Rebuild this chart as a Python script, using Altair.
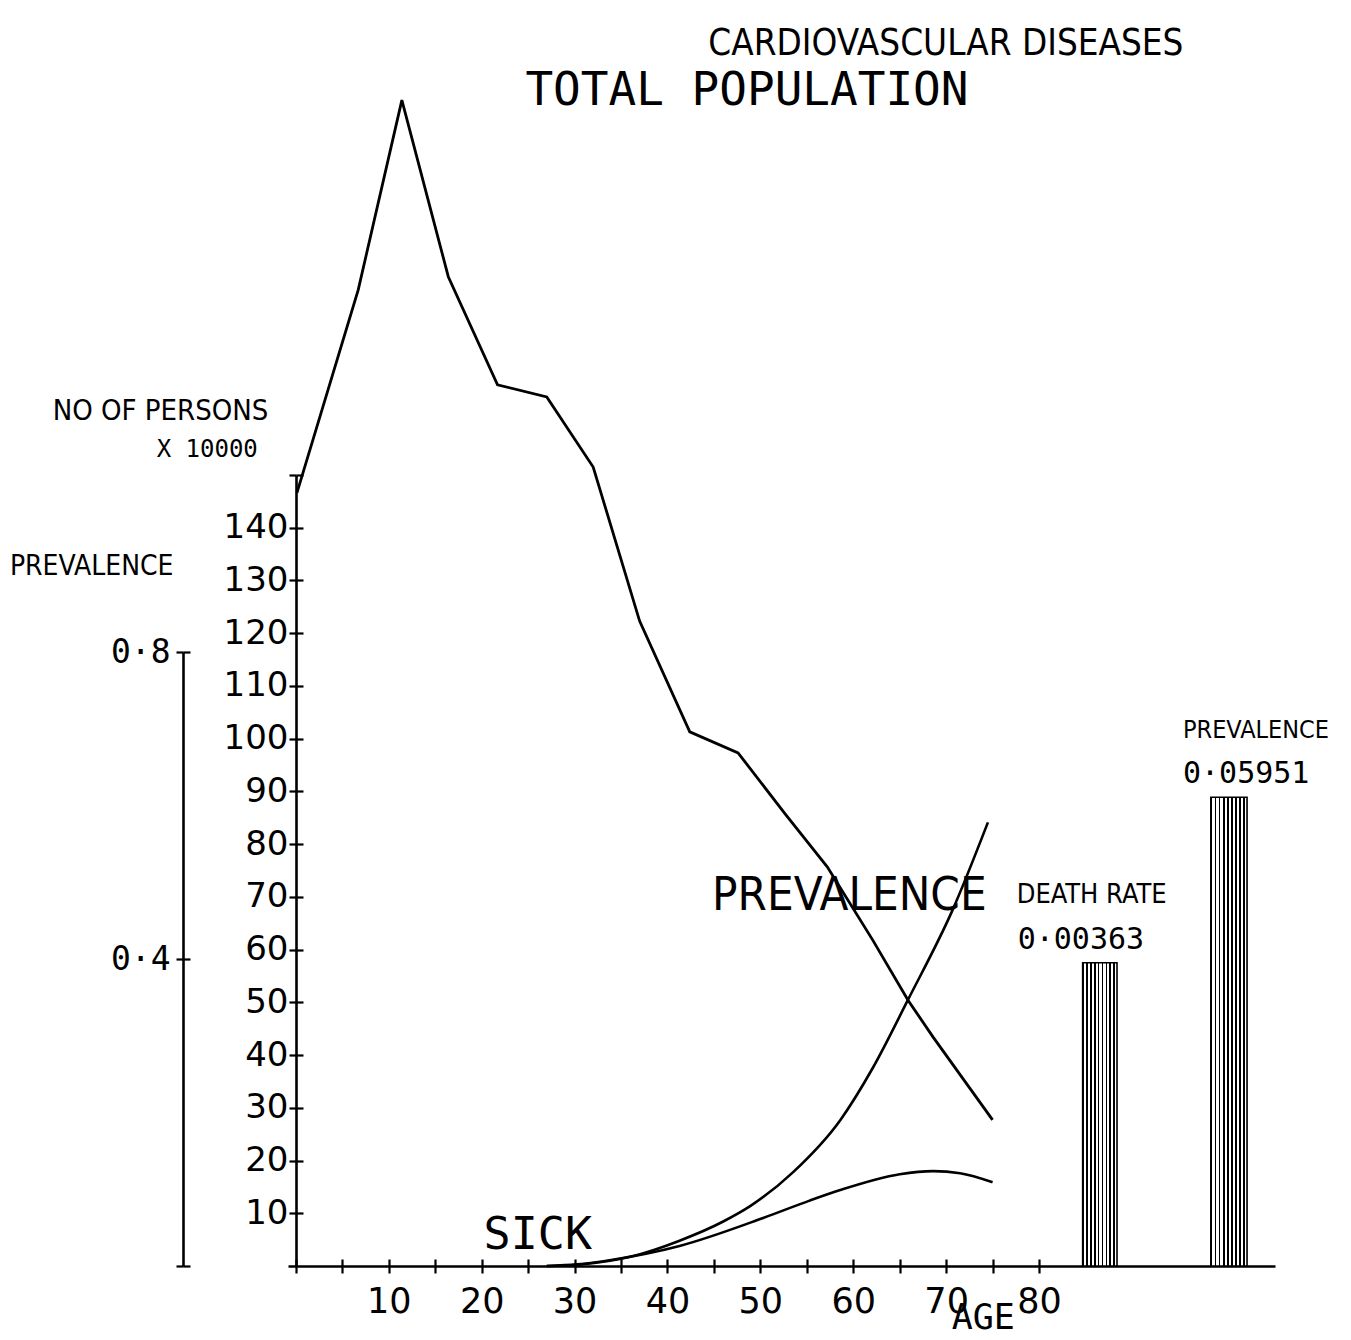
import altair as alt
import pandas as pd

# ---------------- data ----------------
# total population (x 10000) by age
pop_age = [0.1, 6.7, 11.4, 16.4, 21.7, 27.0, 32.0, 37.0, 42.4, 47.6, 52.6, 57.2, 62.1, 65.9, 68.6, 75.0]
pop_val = [146.6, 185.1, 221.1, 187.6, 167.1, 164.8, 151.5, 122.3, 101.3, 97.3, 85.9, 75.7, 61.8, 50.4, 43.4, 27.7]

# sick persons (x 10000) by age
sick_age = [27.0, 30.3, 34.1, 41.3, 50.3, 55.3, 58.6, 65.0, 68.6, 71.5, 75.0]
sick_val = [0.0, 0.3, 1.2, 3.8, 9.1, 12.4, 14.4, 17.4, 18.0, 17.6, 15.9]

# prevalence by age
prev_age = [27.0, 30.6, 36.0, 41.3, 46.0, 48.9, 53.5, 58.6, 62.1, 65.9, 70.7, 74.5]
prev_val = [0.0, 0.002, 0.012, 0.033, 0.058, 0.078, 0.122, 0.190, 0.258, 0.347, 0.464, 0.578]

# summary bars (drawn on the persons scale as in the original)
bar_name = ["DEATH RATE", "PREVALENCE"]
bar_value_text = ["0·00363", "0·05951"]
bar_start = [84.7, 98.5]
bar_end = [88.4, 102.4]
bar_height = [57.5, 88.9]

# axis ticks
age_ticks = list(range(0, 85, 5))
pop_ticks = list(range(10, 160, 10))
prev_ticks = [0.0, 0.4, 0.8]

XDOM = [-0.86, 105.41]
PDOM = [0, 150]
W, H = 987, 791

MONO = "DejaVu Sans Mono"
NARROW = "Liberation Sans Narrow, DejaVu Sans Condensed, sans-serif"
SANS = "DejaVu Sans"


def xs():
    return alt.Scale(domain=XDOM, nice=False, zero=False)


def ys():
    return alt.Scale(domain=PDOM, nice=False, zero=False)


def prev_scale():
    return alt.Scale(domain=[0, 0.8], range=[H, H - 614], nice=False, zero=False)


common_axis = dict(grid=False, title=None, domainColor="black", tickColor="black",
                   labelColor="black", tickWidth=2.2, domainWidth=2.6)

pop_df = pd.DataFrame({"age": pop_age, "v": pop_val})
sick_df = pd.DataFrame({"age": sick_age, "v": sick_val})
prev_df = pd.DataFrame({"age": prev_age, "v": prev_val})
bar_df = pd.DataFrame({"a0": bar_start, "a1": bar_end, "h": bar_height,
                       "base": [0.0, 0.0], "name": bar_name})

# population line with main x axis and main persons axis
pop_line = alt.Chart(pop_df).mark_line(color="black", strokeWidth=2.8).encode(
    x=alt.X("age:Q", scale=xs(), axis=alt.Axis(
        values=age_ticks, orient="bottom", tickSize=7,
        labelExpr="datum.value > 0 && datum.value % 10 == 0 ? datum.label : ''",
        labelFont=SANS, labelFontSize=35, labelPadding=11, labelOverlap=False,
        labelFlush=False, **common_axis)),
    y=alt.Y("v:Q", scale=ys(), axis=alt.Axis(
        values=pop_ticks, orient="left", offset=-8, tickSize=7,
        labelExpr="datum.value < 150 ? datum.label : ''",
        labelFont=SANS, labelFontSize=34, labelPadding=1, labelOverlap=False,
        labelFlush=False, **common_axis)),
)

# sick line, carrying the inner halves of the crossing ticks
sick_line = alt.Chart(sick_df).mark_line(color="black", strokeWidth=2.6, interpolate="monotone").encode(
    x=alt.X("age:Q", scale=xs(), axis=alt.Axis(
        values=age_ticks, orient="bottom", offset=-7, tickSize=7, domain=False,
        labels=False, grid=False, title=None, tickColor="black", tickWidth=2.2)),
    y=alt.Y("v:Q", scale=ys(), axis=alt.Axis(
        values=pop_ticks, orient="left", offset=-15, tickSize=7, domain=False,
        labels=False, grid=False, title=None, tickColor="black", tickWidth=2.2)),
)

# prevalence curve on its own axis
prev_line = alt.Chart(prev_df).mark_line(color="black", strokeWidth=2.6, interpolate="monotone").encode(
    x=alt.X("age:Q", scale=xs(), axis=None),
    y=alt.Y("v:Q", scale=prev_scale(), axis=alt.Axis(
        values=prev_ticks, orient="left", offset=105, tickSize=7, format=".1f",
        labelExpr="datum.value == 0 ? '' : replace(datum.label, '.', '·')",
        labelFont=MONO, labelFontSize=33, labelPadding=6, labelOverlap=False,
        labelFlush=False, **common_axis)),
)

prev_ticks_inner = alt.Chart(prev_df).mark_line(strokeOpacity=0).encode(
    x=alt.X("age:Q", scale=xs(), axis=None),
    y=alt.Y("v:Q", scale=prev_scale(), axis=alt.Axis(
        values=prev_ticks, orient="left", offset=98, tickSize=7, domain=False,
        labels=False, grid=False, title=None, tickColor="black", tickWidth=2.2)),
)

# hatched bars
stops = []
n = 9
for i in range(n):
    a = i / n
    b = a + 0.4 / n
    stops += [{"offset": a, "color": "black"}, {"offset": b, "color": "black"},
              {"offset": b, "color": "white"}, {"offset": (i + 1) / n, "color": "white"}]
hatch = {"gradient": "linear", "x1": 0, "y1": 0, "x2": 1, "y2": 0, "stops": stops}

bars = alt.Chart(bar_df).mark_rect(fill=hatch, stroke="black", strokeWidth=1.6).encode(
    x=alt.X("a0:Q", scale=xs(), axis=None),
    x2="a1:Q",
    y=alt.Y("h:Q", scale=ys(), axis=None),
    y2="base:Q",
)


def label(text, age, val, font, size, weight="normal"):
    df = pd.DataFrame({"age": [age], "v": [val], "t": [text]})
    return alt.Chart(df).mark_text(font=font, fontSize=size, fontWeight=weight, align="left",
                                   baseline="alphabetic", color="black").encode(
        x=alt.X("age:Q", scale=xs(), axis=None),
        y=alt.Y("v:Q", scale=ys(), axis=None),
        text="t:N",
    )


texts = [
    label("CARDIOVASCULAR DISEASES", 44.4, 229.7, NARROW, 36.5),
    label("TOTAL POPULATION", 24.7, 220.2, MONO, 46),
    label("NO OF PERSONS", -26.2, 160.4, NARROW, 29),
    label("X 10000", -15.0, 153.4, MONO, 24),
    label("PREVALENCE", -30.8, 131.0, NARROW, 28),
    label("PREVALENCE", 44.8, 67.5, NARROW, 47),
    label("SICK", 20.2, 3.2, MONO, 45),
    label("AGE", 70.6, -11.9, MONO, 35),
    label(bar_name[0], 77.6, 68.8, NARROW, 27),
    label(bar_value_text[0], 77.7, 60.1, MONO, 30),
    label(bar_name[1], 95.5, 100.1, NARROW, 25),
    label(bar_value_text[1], 95.5, 91.6, MONO, 30),
]

chart = alt.layer(pop_line, sick_line, prev_line, prev_ticks_inner, bars, *texts).resolve_scale(
    x="independent", y="independent"
).properties(
    width=W, height=H,
    autosize=alt.AutoSizeParams(type="none"),
    padding={"left": 280, "top": 467, "right": 60, "bottom": 76},
).configure_view(stroke=None)

chart.save("out.html", embed_options={"renderer": "svg", "actions": False})
